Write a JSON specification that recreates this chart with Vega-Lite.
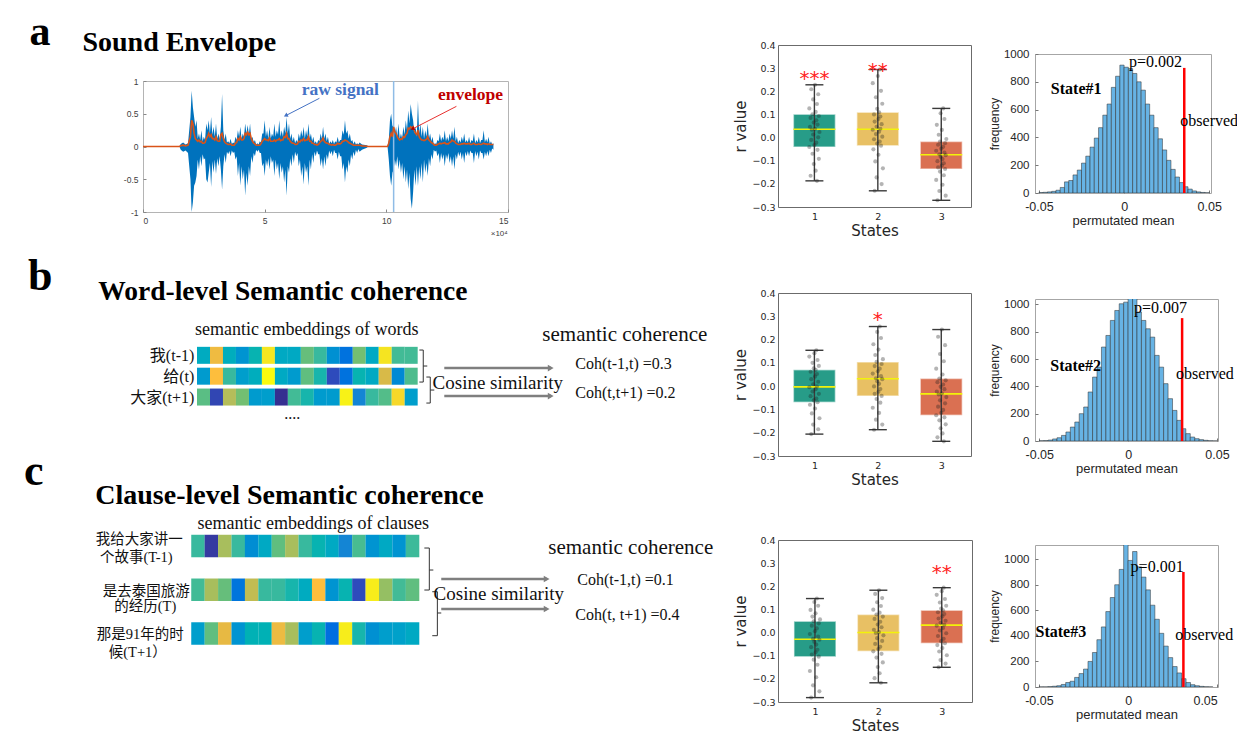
{
"$schema": "https://vega.github.io/schema/vega-lite/v6.json",
"background": "white",
"padding": {"left": 23, "top": 0, "right": 0, "bottom": 0},
"spacing": 14,
"config": {"view": {"stroke": null}, "axis": {"domain": false, "grid": false, "labelOverlap": false}},
"datasets": {
"wave": [
{"x":0,"hi":0.005,"lo":-0.005,"e":0},{"x":1.5,"hi":0.005,"lo":-0.005,"e":0},{"x":1.55,"hi":0.04,"lo":-0.05,"e":0.01},{"x":1.65,"hi":0.06,"lo":-0.08,"e":0.02},{"x":1.75,"hi":0.03,"lo":-0.06,"e":0.01},{"x":1.85,"hi":0.05,"lo":-0.1,"e":0.02},{"x":1.95,"hi":0.45,"lo":-0.5,"e":0.15},{"x":2.0,"hi":0.85,"lo":-1.0,"e":0.4},{"x":2.05,"hi":0.6,"lo":-0.85,"e":0.35},{"x":2.1,"hi":0.45,"lo":-0.6,"e":0.2},{"x":2.15,"hi":0.3,"lo":-0.55,"e":0.12},{"x":2.2,"hi":0.4,"lo":-0.45,"e":0.1},{"x":2.3,"hi":0.2,"lo":-0.35,"e":0.1},{"x":2.4,"hi":0.25,"lo":-0.3,"e":0.08},{"x":2.5,"hi":0.15,"lo":-0.2,"e":0.05},{"x":2.6,"hi":0.35,"lo":-0.5,"e":0.12},{"x":2.65,"hi":0.25,"lo":-0.55,"e":0.15},{"x":2.7,"hi":0.4,"lo":-0.4,"e":0.2},{"x":2.8,"hi":0.45,"lo":-0.62,"e":0.18},{"x":2.9,"hi":0.3,"lo":-0.4,"e":0.12},{"x":3.0,"hi":0.35,"lo":-0.42,"e":0.15},{"x":3.1,"hi":0.2,"lo":-0.3,"e":0.08},{"x":3.2,"hi":0.3,"lo":-0.35,"e":0.18},{"x":3.25,"hi":0.8,"lo":-0.66,"e":0.2},{"x":3.3,"hi":0.25,"lo":-0.3,"e":0.12},{"x":3.4,"hi":0.2,"lo":-0.25,"e":0.05},{"x":3.5,"hi":0.08,"lo":-0.12,"e":0.03},{"x":3.6,"hi":0.12,"lo":-0.15,"e":0.04},{"x":3.7,"hi":0.06,"lo":-0.1,"e":0.02},{"x":3.8,"hi":0.15,"lo":-0.2,"e":0.05},{"x":3.9,"hi":0.25,"lo":-0.45,"e":0.12},{"x":4.0,"hi":0.3,"lo":-0.6,"e":0.15},{"x":4.1,"hi":0.2,"lo":-0.5,"e":0.1},{"x":4.2,"hi":0.35,"lo":-0.75,"e":0.2},{"x":4.3,"hi":0.33,"lo":-0.6,"e":0.22},{"x":4.4,"hi":0.35,"lo":-0.45,"e":0.2},{"x":4.5,"hi":0.15,"lo":-0.25,"e":0.08},{"x":4.6,"hi":0.1,"lo":-0.15,"e":0.04},{"x":4.7,"hi":0.05,"lo":-0.08,"e":0.02},{"x":4.8,"hi":0.08,"lo":-0.1,"e":0.02},{"x":4.9,"hi":0.2,"lo":-0.3,"e":0.08},{"x":5.0,"hi":0.4,"lo":-0.45,"e":0.12},{"x":5.1,"hi":0.25,"lo":-0.3,"e":0.1},{"x":5.2,"hi":0.3,"lo":-0.35,"e":0.13},{"x":5.3,"hi":0.2,"lo":-0.25,"e":0.08},{"x":5.4,"hi":0.35,"lo":-0.45,"e":0.1},{"x":5.5,"hi":0.25,"lo":-0.35,"e":0.1},{"x":5.6,"hi":0.4,"lo":-0.5,"e":0.12},{"x":5.7,"hi":0.25,"lo":-0.4,"e":0.1},{"x":5.8,"hi":0.3,"lo":-0.55,"e":0.15},{"x":5.9,"hi":0.45,"lo":-0.75,"e":0.2},{"x":6.0,"hi":0.35,"lo":-0.4,"e":0.12},{"x":6.1,"hi":0.2,"lo":-0.3,"e":0.06},{"x":6.2,"hi":0.15,"lo":-0.25,"e":0.05},{"x":6.3,"hi":0.1,"lo":-0.15,"e":0.03},{"x":6.4,"hi":0.2,"lo":-0.3,"e":0.08},{"x":6.5,"hi":0.25,"lo":-0.45,"e":0.1},{"x":6.6,"hi":0.3,"lo":-0.58,"e":0.12},{"x":6.7,"hi":0.25,"lo":-0.4,"e":0.1},{"x":6.8,"hi":0.35,"lo":-0.6,"e":0.15},{"x":6.9,"hi":0.2,"lo":-0.35,"e":0.08},{"x":7.0,"hi":0.15,"lo":-0.25,"e":0.05},{"x":7.1,"hi":0.08,"lo":-0.15,"e":0.03},{"x":7.2,"hi":0.1,"lo":-0.12,"e":0.03},{"x":7.3,"hi":0.2,"lo":-0.3,"e":0.08},{"x":7.4,"hi":0.3,"lo":-0.35,"e":0.13},{"x":7.5,"hi":0.2,"lo":-0.3,"e":0.06},{"x":7.6,"hi":0.15,"lo":-0.2,"e":0.05},{"x":7.7,"hi":0.08,"lo":-0.12,"e":0.03},{"x":7.8,"hi":0.1,"lo":-0.15,"e":0.03},{"x":7.9,"hi":0.08,"lo":-0.1,"e":0.02},{"x":8.0,"hi":0.15,"lo":-0.2,"e":0.05},{"x":8.1,"hi":0.1,"lo":-0.15,"e":0.04},{"x":8.2,"hi":0.25,"lo":-0.35,"e":0.08},{"x":8.3,"hi":0.4,"lo":-0.55,"e":0.1},{"x":8.4,"hi":0.25,"lo":-0.4,"e":0.08},{"x":8.5,"hi":0.2,"lo":-0.3,"e":0.05},{"x":8.6,"hi":0.1,"lo":-0.2,"e":0.03},{"x":8.7,"hi":0.08,"lo":-0.15,"e":0.02},{"x":8.8,"hi":0.05,"lo":-0.1,"e":0.02},{"x":8.9,"hi":0.06,"lo":-0.08,"e":0.02},{"x":9.0,"hi":0.03,"lo":-0.05,"e":0.01},{"x":9.2,"hi":0.02,"lo":-0.02,"e":0.005},{"x":9.25,"hi":0.005,"lo":-0.005,"e":0},{"x":10.05,"hi":0.005,"lo":-0.005,"e":0},{"x":10.1,"hi":0.1,"lo":-0.2,"e":0.05},{"x":10.15,"hi":0.4,"lo":-0.45,"e":0.15},{"x":10.2,"hi":0.5,"lo":-0.6,"e":0.2},{"x":10.25,"hi":0.3,"lo":-0.4,"e":0.15},{"x":10.3,"hi":0.35,"lo":-0.35,"e":0.3},{"x":10.4,"hi":0.3,"lo":-0.3,"e":0.2},{"x":10.5,"hi":0.35,"lo":-0.35,"e":0.12},{"x":10.6,"hi":0.2,"lo":-0.4,"e":0.12},{"x":10.7,"hi":0.3,"lo":-0.5,"e":0.15},{"x":10.8,"hi":0.4,"lo":-0.55,"e":0.18},{"x":10.9,"hi":0.55,"lo":-0.65,"e":0.28},{"x":11.0,"hi":0.65,"lo":-0.8,"e":0.3},{"x":11.05,"hi":0.5,"lo":-0.95,"e":0.28},{"x":11.1,"hi":0.4,"lo":-0.7,"e":0.3},{"x":11.2,"hi":0.3,"lo":-0.6,"e":0.2},{"x":11.3,"hi":0.7,"lo":-0.6,"e":0.25},{"x":11.4,"hi":0.35,"lo":-0.5,"e":0.12},{"x":11.5,"hi":0.3,"lo":-0.55,"e":0.1},{"x":11.6,"hi":0.25,"lo":-0.4,"e":0.1},{"x":11.7,"hi":0.35,"lo":-0.45,"e":0.15},{"x":11.8,"hi":0.2,"lo":-0.3,"e":0.08},{"x":11.9,"hi":0.15,"lo":-0.2,"e":0.05},{"x":12.0,"hi":0.05,"lo":-0.08,"e":0.02},{"x":12.1,"hi":0.1,"lo":-0.15,"e":0.03},{"x":12.2,"hi":0.2,"lo":-0.25,"e":0.05},{"x":12.3,"hi":0.15,"lo":-0.2,"e":0.05},{"x":12.4,"hi":0.25,"lo":-0.3,"e":0.06},{"x":12.5,"hi":0.15,"lo":-0.2,"e":0.04},{"x":12.6,"hi":0.2,"lo":-0.25,"e":0.06},{"x":12.7,"hi":0.25,"lo":-0.3,"e":0.1},{"x":12.8,"hi":0.3,"lo":-0.35,"e":0.08},{"x":12.9,"hi":0.15,"lo":-0.2,"e":0.04},{"x":13.0,"hi":0.1,"lo":-0.15,"e":0.03},{"x":13.1,"hi":0.15,"lo":-0.2,"e":0.04},{"x":13.2,"hi":0.2,"lo":-0.25,"e":0.05},{"x":13.3,"hi":0.1,"lo":-0.15,"e":0.04},{"x":13.4,"hi":0.15,"lo":-0.15,"e":0.05},{"x":13.5,"hi":0.1,"lo":-0.1,"e":0.03},{"x":13.6,"hi":0.2,"lo":-0.25,"e":0.05},{"x":13.7,"hi":0.1,"lo":-0.15,"e":0.03},{"x":13.8,"hi":0.15,"lo":-0.2,"e":0.04},{"x":13.9,"hi":0.1,"lo":-0.1,"e":0.03},{"x":14.0,"hi":0.25,"lo":-0.2,"e":0.05},{"x":14.1,"hi":0.12,"lo":-0.15,"e":0.04},{"x":14.2,"hi":0.15,"lo":-0.15,"e":0.04},{"x":14.3,"hi":0.08,"lo":-0.1,"e":0.03},{"x":14.4,"hi":0.05,"lo":-0.05,"e":0.03},
{"x":2.25,"hi":0.12,"lo":-0.2,"e":0.08},{"x":2.35,"hi":0.1,"lo":-0.15,"e":0.07},{"x":2.45,"hi":0.08,"lo":-0.12,"e":0.05},{"x":2.55,"hi":0.1,"lo":-0.18,"e":0.06},{"x":2.75,"hi":0.2,"lo":-0.25,"e":0.15},{"x":2.85,"hi":0.18,"lo":-0.22,"e":0.12},{"x":2.95,"hi":0.15,"lo":-0.2,"e":0.1},{"x":3.05,"hi":0.12,"lo":-0.18,"e":0.09},{"x":3.15,"hi":0.1,"lo":-0.15,"e":0.08},{"x":3.35,"hi":0.1,"lo":-0.12,"e":0.07},{"x":3.45,"hi":0.06,"lo":-0.08,"e":0.04},{"x":3.55,"hi":0.05,"lo":-0.07,"e":0.03},{"x":3.65,"hi":0.04,"lo":-0.06,"e":0.02},{"x":3.75,"hi":0.05,"lo":-0.08,"e":0.02},{"x":3.85,"hi":0.1,"lo":-0.15,"e":0.06},{"x":3.95,"hi":0.15,"lo":-0.25,"e":0.1},{"x":4.05,"hi":0.12,"lo":-0.3,"e":0.1},{"x":4.15,"hi":0.15,"lo":-0.35,"e":0.12},{"x":4.25,"hi":0.2,"lo":-0.4,"e":0.18},{"x":4.35,"hi":0.18,"lo":-0.3,"e":0.18},{"x":4.45,"hi":0.1,"lo":-0.15,"e":0.12},{"x":4.55,"hi":0.06,"lo":-0.1,"e":0.05},{"x":4.65,"hi":0.03,"lo":-0.05,"e":0.02},{"x":4.75,"hi":0.03,"lo":-0.05,"e":0.02},{"x":4.85,"hi":0.06,"lo":-0.1,"e":0.04},{"x":4.95,"hi":0.2,"lo":-0.25,"e":0.1},{"x":5.05,"hi":0.15,"lo":-0.2,"e":0.1},{"x":5.15,"hi":0.12,"lo":-0.18,"e":0.09},{"x":5.25,"hi":0.12,"lo":-0.15,"e":0.08},{"x":5.35,"hi":0.15,"lo":-0.2,"e":0.08},{"x":5.45,"hi":0.15,"lo":-0.2,"e":0.08},{"x":5.55,"hi":0.18,"lo":-0.25,"e":0.1},{"x":5.65,"hi":0.15,"lo":-0.25,"e":0.09},{"x":5.75,"hi":0.15,"lo":-0.3,"e":0.1},{"x":5.85,"hi":0.2,"lo":-0.35,"e":0.14},{"x":5.95,"hi":0.2,"lo":-0.3,"e":0.12},{"x":6.05,"hi":0.12,"lo":-0.18,"e":0.08},{"x":6.15,"hi":0.08,"lo":-0.12,"e":0.05},{"x":6.25,"hi":0.05,"lo":-0.08,"e":0.03},{"x":6.35,"hi":0.06,"lo":-0.1,"e":0.04},{"x":6.45,"hi":0.12,"lo":-0.2,"e":0.07},{"x":6.55,"hi":0.15,"lo":-0.3,"e":0.09},{"x":6.65,"hi":0.12,"lo":-0.25,"e":0.09},{"x":6.75,"hi":0.15,"lo":-0.3,"e":0.1},{"x":6.85,"hi":0.12,"lo":-0.2,"e":0.08},{"x":6.95,"hi":0.08,"lo":-0.12,"e":0.05},{"x":7.05,"hi":0.05,"lo":-0.08,"e":0.03},{"x":7.15,"hi":0.04,"lo":-0.06,"e":0.02},{"x":7.25,"hi":0.08,"lo":-0.12,"e":0.05},{"x":7.35,"hi":0.12,"lo":-0.18,"e":0.09},{"x":7.45,"hi":0.12,"lo":-0.15,"e":0.08},{"x":7.55,"hi":0.08,"lo":-0.12,"e":0.05},{"x":7.65,"hi":0.04,"lo":-0.06,"e":0.03},{"x":7.75,"hi":0.05,"lo":-0.07,"e":0.02},{"x":7.85,"hi":0.04,"lo":-0.05,"e":0.02},{"x":7.95,"hi":0.06,"lo":-0.1,"e":0.03},{"x":8.05,"hi":0.06,"lo":-0.08,"e":0.04},{"x":8.15,"hi":0.1,"lo":-0.15,"e":0.05},{"x":8.25,"hi":0.18,"lo":-0.25,"e":0.08},{"x":8.35,"hi":0.2,"lo":-0.3,"e":0.09},{"x":8.45,"hi":0.12,"lo":-0.2,"e":0.06},{"x":8.55,"hi":0.08,"lo":-0.12,"e":0.04},{"x":8.65,"hi":0.04,"lo":-0.08,"e":0.02},{"x":8.75,"hi":0.03,"lo":-0.05,"e":0.02},{"x":8.85,"hi":0.03,"lo":-0.04,"e":0.02},{"x":10.35,"hi":0.2,"lo":-0.2,"e":0.22},{"x":10.45,"hi":0.15,"lo":-0.15,"e":0.15},{"x":10.55,"hi":0.12,"lo":-0.2,"e":0.1},{"x":10.65,"hi":0.12,"lo":-0.25,"e":0.11},{"x":10.75,"hi":0.18,"lo":-0.3,"e":0.14},{"x":10.85,"hi":0.25,"lo":-0.35,"e":0.2},{"x":10.95,"hi":0.35,"lo":-0.4,"e":0.27},{"x":11.15,"hi":0.2,"lo":-0.35,"e":0.24},{"x":11.25,"hi":0.15,"lo":-0.3,"e":0.18},{"x":11.35,"hi":0.2,"lo":-0.3,"e":0.15},{"x":11.45,"hi":0.15,"lo":-0.25,"e":0.1},{"x":11.55,"hi":0.12,"lo":-0.2,"e":0.09},{"x":11.65,"hi":0.15,"lo":-0.25,"e":0.11},{"x":11.75,"hi":0.12,"lo":-0.18,"e":0.1},{"x":11.85,"hi":0.08,"lo":-0.12,"e":0.06},{"x":11.95,"hi":0.03,"lo":-0.05,"e":0.03},{"x":12.05,"hi":0.04,"lo":-0.06,"e":0.02},{"x":12.15,"hi":0.08,"lo":-0.1,"e":0.04},{"x":12.25,"hi":0.08,"lo":-0.1,"e":0.04},{"x":12.35,"hi":0.1,"lo":-0.12,"e":0.05},{"x":12.45,"hi":0.08,"lo":-0.12,"e":0.04},{"x":12.55,"hi":0.08,"lo":-0.1,"e":0.04},{"x":12.65,"hi":0.12,"lo":-0.15,"e":0.07},{"x":12.75,"hi":0.12,"lo":-0.15,"e":0.08},{"x":12.85,"hi":0.08,"lo":-0.12,"e":0.05},{"x":12.95,"hi":0.05,"lo":-0.08,"e":0.03},{"x":13.05,"hi":0.06,"lo":-0.08,"e":0.03},{"x":13.15,"hi":0.08,"lo":-0.1,"e":0.04},{"x":13.25,"hi":0.06,"lo":-0.08,"e":0.04},{"x":13.35,"hi":0.06,"lo":-0.07,"e":0.04},{"x":13.45,"hi":0.05,"lo":-0.06,"e":0.03},{"x":13.55,"hi":0.08,"lo":-0.1,"e":0.04},{"x":13.65,"hi":0.05,"lo":-0.07,"e":0.03},{"x":13.75,"hi":0.06,"lo":-0.08,"e":0.03},{"x":13.85,"hi":0.05,"lo":-0.06,"e":0.03},{"x":13.95,"hi":0.1,"lo":-0.1,"e":0.04},{"x":14.05,"hi":0.06,"lo":-0.08,"e":0.04},{"x":14.15,"hi":0.06,"lo":-0.07,"e":0.03},{"x":14.25,"hi":0.04,"lo":-0.05,"e":0.03},{"x":14.35,"hi":0.03,"lo":-0.03,"e":0.03}
],
"wline": [{"x":10.3,"y0":-1,"y1":1}],
"warr": [{"k":"raw","x":7.25,"y":0.736,"x2":5.89,"y2":0.476},{"k":"env","x":12.88,"y":0.613,"x2":11.1,"y2":0.273}],
"wtext": [
{"k":"letter","x":-4.66,"y":1.55,"t":"a"},
{"k":"title","x":-2.49,"y":1.46,"t":"Sound Envelope"},
{"k":"raw","x":8.11,"y":0.792,"t":"raw signal"},
{"k":"env","x":13.46,"y":0.705,"t":"envelope"},
{"k":"exp","x":14.64,"y":-1.336,"t":"×10⁴"}
],
"cells": [
{"d":"b","r":0,"i":0,"v":0.32},{"d":"b","r":0,"i":1,"v":0.75},{"d":"b","r":0,"i":2,"v":0.33},{"d":"b","r":0,"i":3,"v":0.24},{"d":"b","r":0,"i":4,"v":0.36},{"d":"b","r":0,"i":5,"v":0.93},{"d":"b","r":0,"i":6,"v":0.31},{"d":"b","r":0,"i":7,"v":0.31},{"d":"b","r":0,"i":8,"v":0.48},{"d":"b","r":0,"i":9,"v":0.4},{"d":"b","r":0,"i":10,"v":0.23},{"d":"b","r":0,"i":11,"v":0.14},{"d":"b","r":0,"i":12,"v":0.5},{"d":"b","r":0,"i":13,"v":0.31},{"d":"b","r":0,"i":14,"v":0.92},{"d":"b","r":0,"i":15,"v":0.42},{"d":"b","r":0,"i":16,"v":0.42},
{"d":"b","r":1,"i":0,"v":0.26},{"d":"b","r":1,"i":1,"v":0.8},{"d":"b","r":1,"i":2,"v":0.4},{"d":"b","r":1,"i":3,"v":0.27},{"d":"b","r":1,"i":4,"v":0.33},{"d":"b","r":1,"i":5,"v":1.0},{"d":"b","r":1,"i":6,"v":0.31},{"d":"b","r":1,"i":7,"v":0.26},{"d":"b","r":1,"i":8,"v":0.47},{"d":"b","r":1,"i":9,"v":0.37},{"d":"b","r":1,"i":10,"v":0.06},{"d":"b","r":1,"i":11,"v":0.14},{"d":"b","r":1,"i":12,"v":0.36},{"d":"b","r":1,"i":13,"v":0.31},{"d":"b","r":1,"i":14,"v":0.68},{"d":"b","r":1,"i":15,"v":0.21},{"d":"b","r":1,"i":16,"v":0.44},
{"d":"b","r":2,"i":0,"v":0.46},{"d":"b","r":2,"i":1,"v":0.05},{"d":"b","r":2,"i":2,"v":0.6},{"d":"b","r":2,"i":3,"v":0.5},{"d":"b","r":2,"i":4,"v":0.26},{"d":"b","r":2,"i":5,"v":0.27},{"d":"b","r":2,"i":6,"v":0.01},{"d":"b","r":2,"i":7,"v":0.42},{"d":"b","r":2,"i":8,"v":0.37},{"d":"b","r":2,"i":9,"v":0.26},{"d":"b","r":2,"i":10,"v":0.26},{"d":"b","r":2,"i":11,"v":0.97},{"d":"b","r":2,"i":12,"v":0.2},{"d":"b","r":2,"i":13,"v":0.4},{"d":"b","r":2,"i":14,"v":0.45},{"d":"b","r":2,"i":15,"v":0.88},{"d":"b","r":2,"i":16,"v":0.27},
{"d":"c","r":0,"i":0,"v":0.4},{"d":"c","r":0,"i":1,"v":0.03},{"d":"c","r":0,"i":2,"v":0.58},{"d":"c","r":0,"i":3,"v":0.4},{"d":"c","r":0,"i":4,"v":0.22},{"d":"c","r":0,"i":5,"v":0.31},{"d":"c","r":0,"i":6,"v":0.47},{"d":"c","r":0,"i":7,"v":0.58},{"d":"c","r":0,"i":8,"v":0.4},{"d":"c","r":0,"i":9,"v":0.36},{"d":"c","r":0,"i":10,"v":0.31},{"d":"c","r":0,"i":11,"v":0.2},{"d":"c","r":0,"i":12,"v":0.43},{"d":"c","r":0,"i":13,"v":0.24},{"d":"c","r":0,"i":14,"v":0.31},{"d":"c","r":0,"i":15,"v":0.24},{"d":"c","r":0,"i":16,"v":0.41},
{"d":"c","r":1,"i":0,"v":0.42},{"d":"c","r":1,"i":1,"v":0.58},{"d":"c","r":1,"i":2,"v":0.48},{"d":"c","r":1,"i":3,"v":0.15},{"d":"c","r":1,"i":4,"v":0.63},{"d":"c","r":1,"i":5,"v":0.4},{"d":"c","r":1,"i":6,"v":0.4},{"d":"c","r":1,"i":7,"v":0.37},{"d":"c","r":1,"i":8,"v":0.32},{"d":"c","r":1,"i":9,"v":0.8},{"d":"c","r":1,"i":10,"v":0.24},{"d":"c","r":1,"i":11,"v":0.36},{"d":"c","r":1,"i":12,"v":0.06},{"d":"c","r":1,"i":13,"v":0.95},{"d":"c","r":1,"i":14,"v":0.55},{"d":"c","r":1,"i":15,"v":0.42},{"d":"c","r":1,"i":16,"v":0.47},
{"d":"c","r":2,"i":0,"v":0.27},{"d":"c","r":2,"i":1,"v":0.47},{"d":"c","r":2,"i":2,"v":0.72},{"d":"c","r":2,"i":3,"v":0.24},{"d":"c","r":2,"i":4,"v":0.35},{"d":"c","r":2,"i":5,"v":0.35},{"d":"c","r":2,"i":6,"v":0.74},{"d":"c","r":2,"i":7,"v":0.58},{"d":"c","r":2,"i":8,"v":0.27},{"d":"c","r":2,"i":9,"v":0.36},{"d":"c","r":2,"i":10,"v":0.13},{"d":"c","r":2,"i":11,"v":0.95},{"d":"c","r":2,"i":12,"v":0.37},{"d":"c","r":2,"i":13,"v":0.23},{"d":"c","r":2,"i":14,"v":0.27},{"d":"c","r":2,"i":15,"v":0.28},{"d":"c","r":2,"i":16,"v":0.31}
],
"dtext": [
{"d":"b","k":"letter","x":-13.52,"y":-3.132,"t":"b"},
{"d":"b","k":"title","x":-8.105,"y":-2.652,"t":"Word-level Semantic coherence"},
{"d":"b","k":"cap","x":7.958,"y":-1.213,"t":"semantic embeddings of words"},
{"d":"b","k":"lab","x":-0.709,"y":0.03,"t":"我(t-1)"},
{"d":"b","k":"lab","x":-0.709,"y":1.04,"t":"给(t)"},
{"d":"b","k":"lab","x":-0.709,"y":2.05,"t":"大家(t+1)"},
{"d":"b","k":"dots","x":6.841,"y":3.055,"t":"...."},
{"d":"b","k":"cos","x":22.67,"y":1.328,"t":"Cosine similarity"},
{"d":"b","k":"sc","x":32.46,"y":-0.974,"t":"semantic coherence"},
{"d":"b","k":"coh","x":28.64,"y":0.417,"t":"Coh(t-1,t) =0.3"},
{"d":"b","k":"coh","x":28.64,"y":1.808,"t":"Coh(t,t+1) =0.2"},
{"d":"c","k":"letter","x":-12.98,"y":-1.394,"t":"c"},
{"d":"c","k":"title","x":-7.658,"y":-0.971,"t":"Clause-level Semantic coherence"},
{"d":"c","k":"cap","x":8.598,"y":-0.503,"t":"semantic embeddings of clauses"},
{"d":"c","k":"labc","x":-4.377,"y":-0.137,"t":"我给大家讲一"},
{"d":"c","k":"labc","x":-4.601,"y":0.274,"t":"个故事(T-1)"},
{"d":"c","k":"labc","x":-3.855,"y":1.045,"t":"是去泰国旅游"},
{"d":"c","k":"labc","x":-3.93,"y":1.394,"t":"的经历(T)"},
{"d":"c","k":"labc","x":-4.303,"y":2.034,"t":"那是91年的时"},
{"d":"c","k":"labc","x":-4.489,"y":2.439,"t":"候(T+1）"},
{"d":"c","k":"cos","x":22.43,"y":1.097,"t":"Cosine similarity"},
{"d":"c","k":"sc","x":32.27,"y":0.046,"t":"semantic coherence"},
{"d":"c","k":"coh","x":28.28,"y":0.777,"t":"Coh(t-1,t) =0.1"},
{"d":"c","k":"coh","x":28.14,"y":1.577,"t":"Coh(t, t+1) =0.4"}
],
"segs": [
{"d":"b","x":16.63,"y":-0.254,"x2":16.93,"y2":-0.254},{"d":"b","x":16.93,"y":-0.254,"x2":16.93,"y2":1.281},{"d":"b","x":16.63,"y":1.281,"x2":16.93,"y2":1.281},{"d":"b","x":16.93,"y":0.513,"x2":17.24,"y2":0.513},
{"d":"b","x":17.17,"y":1.041,"x2":17.47,"y2":1.041},{"d":"b","x":17.47,"y":1.041,"x2":17.47,"y2":2.288},{"d":"b","x":17.17,"y":2.288,"x2":17.47,"y2":2.288},{"d":"b","x":17.47,"y":1.664,"x2":17.78,"y2":1.664},
{"d":"c","x":16.88,"y":0.046,"x2":17.25,"y2":0.046},{"d":"c","x":17.25,"y":0.046,"x2":17.25,"y2":1.006},{"d":"c","x":16.88,"y":1.006,"x2":17.25,"y2":1.006},{"d":"c","x":17.25,"y":0.549,"x2":17.55,"y2":0.549},
{"d":"c","x":17.47,"y":1.045,"x2":17.85,"y2":1.045},{"d":"c","x":17.85,"y":1.045,"x2":17.85,"y2":2.05},{"d":"c","x":17.47,"y":2.05,"x2":17.85,"y2":2.05},{"d":"c","x":17.85,"y":1.531,"x2":18.14,"y2":1.531}
],
"arrows": [
{"d":"b","x":18.55,"x2":26.75,"y":0.609},{"d":"b","x":18.55,"x2":26.75,"y":1.952},
{"d":"c","x":18.14,"x2":26.0,"y":0.754},{"d":"c","x":18.14,"x2":26.0,"y":1.44}
],
"boxes": [
{"p":"a","s":1,"lo":-0.187,"q1":-0.041,"med":0.036,"q3":0.101,"hi":0.228},
{"p":"a","s":2,"lo":-0.23,"q1":-0.035,"med":0.036,"q3":0.109,"hi":0.294},
{"p":"a","s":3,"lo":-0.271,"q1":-0.136,"med":-0.074,"q3":-0.017,"hi":0.126},
{"p":"b","s":1,"lo":-0.206,"q1":-0.069,"med":-0.003,"q3":0.0705,"hi":0.154},
{"p":"b","s":2,"lo":-0.187,"q1":-0.042,"med":0.032,"q3":0.104,"hi":0.256},
{"p":"b","s":3,"lo":-0.237,"q1":-0.125,"med":-0.033,"q3":0.033,"hi":0.243},
{"p":"c","s":1,"lo":-0.281,"q1":-0.104,"med":-0.029,"q3":0.049,"hi":0.147},
{"p":"c","s":2,"lo":-0.217,"q1":-0.081,"med":0.0,"q3":0.078,"hi":0.183},
{"p":"c","s":3,"lo":-0.15,"q1":-0.046,"med":0.032,"q3":0.096,"hi":0.194}
],
"stars": [
{"p":"a","s":1,"y":0.227,"t":"***"},{"p":"a","s":2,"y":0.263,"t":"**"},{"p":"b","s":2,"y":0.258,"t":"*"},{"p":"c","s":3,"y":0.232,"t":"**"}
],
"pts": [
{"p":"a","x":1.04,"y":-0.187},{"p":"a","x":0.94,"y":-0.165},{"p":"a","x":1.02,"y":-0.143},{"p":"a","x":0.99,"y":-0.114},{"p":"a","x":1.07,"y":-0.092},{"p":"a","x":0.97,"y":-0.07},{"p":"a","x":1.05,"y":-0.053},{"p":"a","x":0.92,"y":-0.041},{"p":"a","x":1.0,"y":-0.032},{"p":"a","x":1.03,"y":-0.022},{"p":"a","x":0.95,"y":-0.01},{"p":"a","x":1.06,"y":0.001},{"p":"a","x":0.98,"y":0.013},{"p":"a","x":1.08,"y":0.024},{"p":"a","x":0.96,"y":0.034},{"p":"a","x":1.01,"y":0.038},{"p":"a","x":0.93,"y":0.046},{"p":"a","x":1.05,"y":0.056},{"p":"a","x":0.99,"y":0.065},{"p":"a","x":1.03,"y":0.075},{"p":"a","x":0.94,"y":0.085},{"p":"a","x":1.07,"y":0.093},{"p":"a","x":0.97,"y":0.101},{"p":"a","x":1.02,"y":0.111},{"p":"a","x":0.92,"y":0.126},{"p":"a","x":1.04,"y":0.145},{"p":"a","x":0.98,"y":0.165},{"p":"a","x":1.06,"y":0.187},{"p":"a","x":0.95,"y":0.209},{"p":"a","x":1.01,"y":0.228},
{"p":"a","x":1.95,"y":-0.23},{"p":"a","x":2.06,"y":-0.201},{"p":"a","x":1.98,"y":-0.172},{"p":"a","x":2.08,"y":-0.133},{"p":"a","x":1.96,"y":-0.103},{"p":"a","x":2.01,"y":-0.074},{"p":"a","x":1.93,"y":-0.051},{"p":"a","x":2.05,"y":-0.035},{"p":"a","x":1.99,"y":-0.026},{"p":"a","x":2.03,"y":-0.017},{"p":"a","x":1.94,"y":-0.007},{"p":"a","x":2.07,"y":0.004},{"p":"a","x":1.97,"y":0.015},{"p":"a","x":2.02,"y":0.025},{"p":"a","x":1.92,"y":0.034},{"p":"a","x":2.04,"y":0.038},{"p":"a","x":1.98,"y":0.047},{"p":"a","x":2.06,"y":0.058},{"p":"a","x":1.95,"y":0.069},{"p":"a","x":2.01,"y":0.08},{"p":"a","x":2.04,"y":0.091},{"p":"a","x":1.94,"y":0.1},{"p":"a","x":2.02,"y":0.109},{"p":"a","x":1.99,"y":0.124},{"p":"a","x":2.07,"y":0.146},{"p":"a","x":1.97,"y":0.174},{"p":"a","x":2.05,"y":0.202},{"p":"a","x":1.92,"y":0.235},{"p":"a","x":2.0,"y":0.266},{"p":"a","x":2.03,"y":0.294},
{"p":"a","x":2.94,"y":-0.271},{"p":"a","x":3.07,"y":-0.251},{"p":"a","x":2.97,"y":-0.231},{"p":"a","x":3.02,"y":-0.204},{"p":"a","x":2.92,"y":-0.183},{"p":"a","x":3.04,"y":-0.163},{"p":"a","x":2.98,"y":-0.147},{"p":"a","x":3.06,"y":-0.136},{"p":"a","x":2.95,"y":-0.129},{"p":"a","x":3.01,"y":-0.121},{"p":"a","x":3.04,"y":-0.111},{"p":"a","x":2.94,"y":-0.102},{"p":"a","x":3.02,"y":-0.093},{"p":"a","x":2.99,"y":-0.083},{"p":"a","x":3.07,"y":-0.076},{"p":"a","x":2.97,"y":-0.072},{"p":"a","x":3.05,"y":-0.065},{"p":"a","x":2.92,"y":-0.057},{"p":"a","x":3.0,"y":-0.048},{"p":"a","x":3.03,"y":-0.04},{"p":"a","x":2.95,"y":-0.031},{"p":"a","x":3.06,"y":-0.024},{"p":"a","x":2.98,"y":-0.017},{"p":"a","x":3.08,"y":-0.006},{"p":"a","x":2.96,"y":0.012},{"p":"a","x":3.01,"y":0.033},{"p":"a","x":2.93,"y":0.055},{"p":"a","x":3.05,"y":0.08},{"p":"a","x":2.99,"y":0.105},{"p":"a","x":3.03,"y":0.126},
{"p":"b","x":0.95,"y":-0.206},{"p":"b","x":1.06,"y":-0.185},{"p":"b","x":0.98,"y":-0.165},{"p":"b","x":1.08,"y":-0.138},{"p":"b","x":0.96,"y":-0.117},{"p":"b","x":1.01,"y":-0.096},{"p":"b","x":0.93,"y":-0.08},{"p":"b","x":1.05,"y":-0.069},{"p":"b","x":0.99,"y":-0.061},{"p":"b","x":1.03,"y":-0.053},{"p":"b","x":0.94,"y":-0.043},{"p":"b","x":1.07,"y":-0.033},{"p":"b","x":0.97,"y":-0.023},{"p":"b","x":1.02,"y":-0.013},{"p":"b","x":0.92,"y":-0.005},{"p":"b","x":1.04,"y":-0.001},{"p":"b","x":0.98,"y":0.008},{"p":"b","x":1.06,"y":0.019},{"p":"b","x":0.95,"y":0.03},{"p":"b","x":1.01,"y":0.041},{"p":"b","x":1.04,"y":0.052},{"p":"b","x":0.94,"y":0.062},{"p":"b","x":1.02,"y":0.07},{"p":"b","x":0.99,"y":0.077},{"p":"b","x":1.07,"y":0.087},{"p":"b","x":0.97,"y":0.1},{"p":"b","x":1.05,"y":0.112},{"p":"b","x":0.92,"y":0.127},{"p":"b","x":1.0,"y":0.141},{"p":"b","x":1.03,"y":0.154},
{"p":"b","x":1.94,"y":-0.187},{"p":"b","x":2.07,"y":-0.165},{"p":"b","x":1.97,"y":-0.144},{"p":"b","x":2.02,"y":-0.115},{"p":"b","x":1.92,"y":-0.093},{"p":"b","x":2.04,"y":-0.071},{"p":"b","x":1.98,"y":-0.055},{"p":"b","x":2.06,"y":-0.042},{"p":"b","x":1.95,"y":-0.033},{"p":"b","x":2.01,"y":-0.024},{"p":"b","x":2.04,"y":-0.012},{"p":"b","x":1.94,"y":-0.001},{"p":"b","x":2.02,"y":0.01},{"p":"b","x":1.99,"y":0.021},{"p":"b","x":2.07,"y":0.03},{"p":"b","x":1.97,"y":0.034},{"p":"b","x":2.05,"y":0.043},{"p":"b","x":1.92,"y":0.054},{"p":"b","x":2.0,"y":0.064},{"p":"b","x":2.03,"y":0.075},{"p":"b","x":1.95,"y":0.086},{"p":"b","x":2.06,"y":0.095},{"p":"b","x":1.98,"y":0.104},{"p":"b","x":2.08,"y":0.116},{"p":"b","x":1.96,"y":0.134},{"p":"b","x":2.01,"y":0.157},{"p":"b","x":1.93,"y":0.18},{"p":"b","x":2.05,"y":0.207},{"p":"b","x":1.99,"y":0.233},{"p":"b","x":2.03,"y":0.256},
{"p":"b","x":3.04,"y":-0.237},{"p":"b","x":2.94,"y":-0.22},{"p":"b","x":3.02,"y":-0.203},{"p":"b","x":2.99,"y":-0.181},{"p":"b","x":3.07,"y":-0.164},{"p":"b","x":2.97,"y":-0.147},{"p":"b","x":3.05,"y":-0.134},{"p":"b","x":2.92,"y":-0.125},{"p":"b","x":3.0,"y":-0.114},{"p":"b","x":3.03,"y":-0.102},{"p":"b","x":2.95,"y":-0.088},{"p":"b","x":3.06,"y":-0.074},{"p":"b","x":2.98,"y":-0.061},{"p":"b","x":3.08,"y":-0.047},{"p":"b","x":2.96,"y":-0.036},{"p":"b","x":3.01,"y":-0.031},{"p":"b","x":2.93,"y":-0.023},{"p":"b","x":3.05,"y":-0.013},{"p":"b","x":2.99,"y":-0.003},{"p":"b","x":3.03,"y":0.007},{"p":"b","x":2.94,"y":0.017},{"p":"b","x":3.07,"y":0.025},{"p":"b","x":2.97,"y":0.033},{"p":"b","x":3.02,"y":0.05},{"p":"b","x":2.92,"y":0.075},{"p":"b","x":3.04,"y":0.107},{"p":"b","x":2.98,"y":0.138},{"p":"b","x":3.06,"y":0.176},{"p":"b","x":2.95,"y":0.212},{"p":"b","x":3.01,"y":0.243},
{"p":"c","x":0.94,"y":-0.281},{"p":"c","x":1.07,"y":-0.254},{"p":"c","x":0.97,"y":-0.228},{"p":"c","x":1.02,"y":-0.193},{"p":"c","x":0.92,"y":-0.166},{"p":"c","x":1.04,"y":-0.139},{"p":"c","x":0.98,"y":-0.117},{"p":"c","x":1.06,"y":-0.104},{"p":"c","x":0.95,"y":-0.095},{"p":"c","x":1.01,"y":-0.085},{"p":"c","x":1.04,"y":-0.074},{"p":"c","x":0.94,"y":-0.063},{"p":"c","x":1.02,"y":-0.052},{"p":"c","x":0.99,"y":-0.04},{"p":"c","x":1.07,"y":-0.031},{"p":"c","x":0.97,"y":-0.027},{"p":"c","x":1.05,"y":-0.017},{"p":"c","x":0.92,"y":-0.006},{"p":"c","x":1.0,"y":0.006},{"p":"c","x":1.03,"y":0.018},{"p":"c","x":0.95,"y":0.03},{"p":"c","x":1.06,"y":0.04},{"p":"c","x":0.98,"y":0.049},{"p":"c","x":1.08,"y":0.057},{"p":"c","x":0.96,"y":0.069},{"p":"c","x":1.01,"y":0.083},{"p":"c","x":0.93,"y":0.098},{"p":"c","x":1.05,"y":0.116},{"p":"c","x":0.99,"y":0.132},{"p":"c","x":1.03,"y":0.147},
{"p":"c","x":2.04,"y":-0.217},{"p":"c","x":1.94,"y":-0.197},{"p":"c","x":2.02,"y":-0.176},{"p":"c","x":1.99,"y":-0.149},{"p":"c","x":2.07,"y":-0.129},{"p":"c","x":1.97,"y":-0.108},{"p":"c","x":2.05,"y":-0.092},{"p":"c","x":1.92,"y":-0.081},{"p":"c","x":2.0,"y":-0.071},{"p":"c","x":2.03,"y":-0.061},{"p":"c","x":1.95,"y":-0.049},{"p":"c","x":2.06,"y":-0.036},{"p":"c","x":1.98,"y":-0.024},{"p":"c","x":2.08,"y":-0.012},{"p":"c","x":1.96,"y":-0.002},{"p":"c","x":2.01,"y":0.002},{"p":"c","x":1.93,"y":0.012},{"p":"c","x":2.05,"y":0.023},{"p":"c","x":1.99,"y":0.035},{"p":"c","x":2.03,"y":0.047},{"p":"c","x":1.94,"y":0.059},{"p":"c","x":2.07,"y":0.069},{"p":"c","x":1.97,"y":0.078},{"p":"c","x":2.02,"y":0.086},{"p":"c","x":1.92,"y":0.099},{"p":"c","x":2.04,"y":0.115},{"p":"c","x":1.98,"y":0.131},{"p":"c","x":2.06,"y":0.149},{"p":"c","x":1.95,"y":0.167},{"p":"c","x":2.01,"y":0.183},
{"p":"c","x":2.95,"y":-0.15},{"p":"c","x":3.06,"y":-0.134},{"p":"c","x":2.98,"y":-0.119},{"p":"c","x":3.08,"y":-0.098},{"p":"c","x":2.96,"y":-0.082},{"p":"c","x":3.01,"y":-0.067},{"p":"c","x":2.93,"y":-0.054},{"p":"c","x":3.05,"y":-0.046},{"p":"c","x":2.99,"y":-0.037},{"p":"c","x":3.03,"y":-0.027},{"p":"c","x":2.94,"y":-0.015},{"p":"c","x":3.07,"y":-0.003},{"p":"c","x":2.97,"y":0.009},{"p":"c","x":3.02,"y":0.02},{"p":"c","x":2.92,"y":0.03},{"p":"c","x":3.04,"y":0.034},{"p":"c","x":2.98,"y":0.042},{"p":"c","x":3.06,"y":0.051},{"p":"c","x":2.95,"y":0.061},{"p":"c","x":3.01,"y":0.07},{"p":"c","x":3.04,"y":0.08},{"p":"c","x":2.94,"y":0.088},{"p":"c","x":3.02,"y":0.096},{"p":"c","x":2.99,"y":0.104},{"p":"c","x":3.07,"y":0.116},{"p":"c","x":2.97,"y":0.13},{"p":"c","x":3.05,"y":0.145},{"p":"c","x":2.92,"y":0.163},{"p":"c","x":3.0,"y":0.179},{"p":"c","x":3.03,"y":0.194}
],
"hist": [
{"p":"a","b0":-0.05,"b1":-0.0475,"n":3},{"p":"a","b0":-0.0475,"b1":-0.045,"n":5},{"p":"a","b0":-0.045,"b1":-0.0425,"n":8},{"p":"a","b0":-0.0425,"b1":-0.04,"n":12},{"p":"a","b0":-0.04,"b1":-0.0375,"n":20},{"p":"a","b0":-0.0375,"b1":-0.035,"n":40},{"p":"a","b0":-0.035,"b1":-0.0325,"n":80},{"p":"a","b0":-0.0325,"b1":-0.03,"n":90},{"p":"a","b0":-0.03,"b1":-0.0275,"n":130},{"p":"a","b0":-0.0275,"b1":-0.025,"n":165},{"p":"a","b0":-0.025,"b1":-0.0225,"n":215},{"p":"a","b0":-0.0225,"b1":-0.02,"n":265},{"p":"a","b0":-0.02,"b1":-0.0175,"n":330},{"p":"a","b0":-0.0175,"b1":-0.015,"n":395},{"p":"a","b0":-0.015,"b1":-0.0125,"n":470},{"p":"a","b0":-0.0125,"b1":-0.01,"n":560},{"p":"a","b0":-0.01,"b1":-0.0075,"n":640},{"p":"a","b0":-0.0075,"b1":-0.005,"n":760},{"p":"a","b0":-0.005,"b1":-0.0025,"n":840},{"p":"a","b0":-0.0025,"b1":0,"n":920},{"p":"a","b0":0,"b1":0.0025,"n":905},{"p":"a","b0":0.0025,"b1":0.005,"n":895},{"p":"a","b0":0.005,"b1":0.0075,"n":860},{"p":"a","b0":0.0075,"b1":0.01,"n":800},{"p":"a","b0":0.01,"b1":0.0125,"n":740},{"p":"a","b0":0.0125,"b1":0.015,"n":640},{"p":"a","b0":0.015,"b1":0.0175,"n":560},{"p":"a","b0":0.0175,"b1":0.02,"n":470},{"p":"a","b0":0.02,"b1":0.0225,"n":390},{"p":"a","b0":0.0225,"b1":0.025,"n":310},{"p":"a","b0":0.025,"b1":0.0275,"n":235},{"p":"a","b0":0.0275,"b1":0.03,"n":170},{"p":"a","b0":0.03,"b1":0.0325,"n":115},{"p":"a","b0":0.0325,"b1":0.035,"n":75},{"p":"a","b0":0.035,"b1":0.0375,"n":45},{"p":"a","b0":0.0375,"b1":0.04,"n":28},{"p":"a","b0":0.04,"b1":0.0425,"n":15},{"p":"a","b0":0.0425,"b1":0.045,"n":8},{"p":"a","b0":0.045,"b1":0.0475,"n":4},{"p":"a","b0":0.0475,"b1":0.05,"n":2},
{"p":"b","b0":-0.05,"b1":-0.0475,"n":2},{"p":"b","b0":-0.0475,"b1":-0.045,"n":3},{"p":"b","b0":-0.045,"b1":-0.0425,"n":7},{"p":"b","b0":-0.0425,"b1":-0.04,"n":15},{"p":"b","b0":-0.04,"b1":-0.0375,"n":24},{"p":"b","b0":-0.0375,"b1":-0.035,"n":41},{"p":"b","b0":-0.035,"b1":-0.0325,"n":66},{"p":"b","b0":-0.0325,"b1":-0.03,"n":102},{"p":"b","b0":-0.03,"b1":-0.0275,"n":139},{"p":"b","b0":-0.0275,"b1":-0.025,"n":200},{"p":"b","b0":-0.025,"b1":-0.0225,"n":249},{"p":"b","b0":-0.0225,"b1":-0.02,"n":359},{"p":"b","b0":-0.02,"b1":-0.0175,"n":468},{"p":"b","b0":-0.0175,"b1":-0.015,"n":541},{"p":"b","b0":-0.015,"b1":-0.0125,"n":688},{"p":"b","b0":-0.0125,"b1":-0.01,"n":773},{"p":"b","b0":-0.01,"b1":-0.0075,"n":883},{"p":"b","b0":-0.0075,"b1":-0.005,"n":956},{"p":"b","b0":-0.005,"b1":-0.0025,"n":1005},{"p":"b","b0":-0.0025,"b1":0,"n":1017},{"p":"b","b0":0,"b1":0.0025,"n":1060},{"p":"b","b0":0.0025,"b1":0.005,"n":1045},{"p":"b","b0":0.005,"b1":0.0075,"n":944},{"p":"b","b0":0.0075,"b1":0.01,"n":883},{"p":"b","b0":0.01,"b1":0.0125,"n":822},{"p":"b","b0":0.0125,"b1":0.015,"n":761},{"p":"b","b0":0.015,"b1":0.0175,"n":627},{"p":"b","b0":0.0175,"b1":0.02,"n":541},{"p":"b","b0":0.02,"b1":0.0225,"n":420},{"p":"b","b0":0.0225,"b1":0.025,"n":310},{"p":"b","b0":0.025,"b1":0.0275,"n":224},{"p":"b","b0":0.0275,"b1":0.03,"n":151},{"p":"b","b0":0.03,"b1":0.0325,"n":90},{"p":"b","b0":0.0325,"b1":0.035,"n":54},{"p":"b","b0":0.035,"b1":0.0375,"n":29},{"p":"b","b0":0.0375,"b1":0.04,"n":17},{"p":"b","b0":0.04,"b1":0.0425,"n":10},{"p":"b","b0":0.0425,"b1":0.045,"n":5},{"p":"b","b0":0.045,"b1":0.0475,"n":2},{"p":"b","b0":0.0475,"b1":0.05,"n":1},
{"p":"c","b0":-0.05,"b1":-0.0475,"n":1},{"p":"c","b0":-0.0475,"b1":-0.045,"n":1},{"p":"c","b0":-0.045,"b1":-0.0425,"n":3},{"p":"c","b0":-0.0425,"b1":-0.04,"n":6},{"p":"c","b0":-0.04,"b1":-0.0375,"n":10},{"p":"c","b0":-0.0375,"b1":-0.035,"n":20},{"p":"c","b0":-0.035,"b1":-0.0325,"n":35},{"p":"c","b0":-0.0325,"b1":-0.03,"n":45},{"p":"c","b0":-0.03,"b1":-0.0275,"n":75},{"p":"c","b0":-0.0275,"b1":-0.025,"n":105},{"p":"c","b0":-0.025,"b1":-0.0225,"n":140},{"p":"c","b0":-0.0225,"b1":-0.02,"n":200},{"p":"c","b0":-0.02,"b1":-0.0175,"n":270},{"p":"c","b0":-0.0175,"b1":-0.015,"n":370},{"p":"c","b0":-0.015,"b1":-0.0125,"n":470},{"p":"c","b0":-0.0125,"b1":-0.01,"n":590},{"p":"c","b0":-0.01,"b1":-0.0075,"n":700},{"p":"c","b0":-0.0075,"b1":-0.005,"n":800},{"p":"c","b0":-0.005,"b1":-0.0025,"n":920},{"p":"c","b0":-0.0025,"b1":0,"n":1130},{"p":"c","b0":0,"b1":0.0025,"n":990},{"p":"c","b0":0.0025,"b1":0.005,"n":1060},{"p":"c","b0":0.005,"b1":0.0075,"n":940},{"p":"c","b0":0.0075,"b1":0.01,"n":860},{"p":"c","b0":0.01,"b1":0.0125,"n":760},{"p":"c","b0":0.0125,"b1":0.015,"n":640},{"p":"c","b0":0.015,"b1":0.0175,"n":530},{"p":"c","b0":0.0175,"b1":0.02,"n":420},{"p":"c","b0":0.02,"b1":0.0225,"n":320},{"p":"c","b0":0.0225,"b1":0.025,"n":230},{"p":"c","b0":0.025,"b1":0.0275,"n":160},{"p":"c","b0":0.0275,"b1":0.03,"n":110},{"p":"c","b0":0.03,"b1":0.0325,"n":65},{"p":"c","b0":0.0325,"b1":0.035,"n":35},{"p":"c","b0":0.035,"b1":0.0375,"n":18},{"p":"c","b0":0.0375,"b1":0.04,"n":10},{"p":"c","b0":0.04,"b1":0.0425,"n":5},{"p":"c","b0":0.0425,"b1":0.045,"n":2},{"p":"c","b0":0.045,"b1":0.0475,"n":1}
],
"obs": [{"p":"a","x":0.0353,"y0":0,"y1":900},{"p":"b","x":0.0304,"y0":0,"y1":900},{"p":"c","x":0.031,"y0":0,"y1":900}],
"htext": [
{"p":"a","k":"pv","x":0.0028,"y":910,"t":"p=0.002"},{"p":"a","k":"st","x":-0.043,"y":712,"t":"State#1"},{"p":"a","k":"ob","x":0.033,"y":484,"t":"observed"},
{"p":"b","k":"pv","x":0.0033,"y":941,"t":"p=0.007"},{"p":"b","k":"st","x":-0.0438,"y":514,"t":"State#2"},{"p":"b","k":"ob","x":0.027,"y":453,"t":"observed"},
{"p":"c","k":"pv","x":0.0014,"y":903,"t":"p=0.001"},{"p":"c","k":"st","x":-0.0519,"y":388,"t":"State#3"},{"p":"c","k":"ob","x":0.0265,"y":370,"t":"observed"}
]
},
"hconcat": [
{"vconcat": [
 {"width": 1, "height": 81, "data": {"values": [{}]}, "mark": {"type": "point", "opacity": 0}},
 {"width": 365, "height": 131, "view": {"stroke": "#b4b4b4"},
  "layer": [
   {"data": {"name": "wave"}, "mark": {"type": "area", "color": "#0072BD"},
    "encoding": {"x": {"field": "x", "type": "quantitative", "title": null, "scale": {"domain": [0, 15], "nice": false},
      "axis": {"values": [0, 5, 10, 15], "tickCount": 20, "labelExpr": "'' + datum.value", "labelOverlap": false, "tickSize": -3, "tickColor": "#888", "labelPadding": 7, "labelFont": "Liberation Sans", "labelFontSize": 8.5, "labelColor": "#404040"}},
     "y": {"field": "hi", "type": "quantitative", "title": null, "scale": {"domain": [-1, 1], "nice": false},
      "axis": {"values": [-1, -0.5, 0, 0.5, 1], "tickCount": 20, "labelExpr": "'' + datum.value", "labelOverlap": false, "tickSize": -3, "tickColor": "#888", "labelPadding": 8, "labelFont": "Liberation Sans", "labelFontSize": 8.5, "labelColor": "#404040"}},
     "y2": {"field": "lo"}}},
   {"data": {"name": "wline"}, "mark": {"type": "rule", "color": "#8FBCE6", "strokeWidth": 1.5},
    "encoding": {"x": {"field": "x", "type": "quantitative", "title": null}, "y": {"field": "y0", "type": "quantitative", "title": null}, "y2": {"field": "y1"}}},
   {"data": {"name": "wave"}, "mark": {"type": "line", "color": "#D95319", "strokeWidth": 1.6},
    "encoding": {"x": {"field": "x", "type": "quantitative", "title": null}, "y": {"field": "e", "type": "quantitative", "title": null}}},
   {"data": {"name": "warr"}, "transform": [{"filter": "datum.k=='raw'"}], "mark": {"type": "rule", "color": "#4472C4", "strokeWidth": 1},
    "encoding": {"x": {"field": "x", "type": "quantitative", "title": null}, "y": {"field": "y", "type": "quantitative", "title": null}, "x2": {"field": "x2"}, "y2": {"field": "y2"}}},
   {"data": {"name": "warr"}, "transform": [{"filter": "datum.k=='raw'"}], "mark": {"type": "point", "shape": "triangle", "angle": 243, "size": 22, "filled": true, "color": "#4472C4", "opacity": 1},
    "encoding": {"x": {"field": "x2", "type": "quantitative", "title": null}, "y": {"field": "y2", "type": "quantitative", "title": null}}},
   {"data": {"name": "warr"}, "transform": [{"filter": "datum.k=='env'"}], "mark": {"type": "rule", "color": "#E8312F", "strokeWidth": 1},
    "encoding": {"x": {"field": "x", "type": "quantitative", "title": null}, "y": {"field": "y", "type": "quantitative", "title": null}, "x2": {"field": "x2"}, "y2": {"field": "y2"}}},
   {"data": {"name": "warr"}, "transform": [{"filter": "datum.k=='env'"}], "mark": {"type": "point", "shape": "triangle", "angle": 243, "size": 22, "filled": true, "color": "#B00000", "opacity": 1},
    "encoding": {"x": {"field": "x2", "type": "quantitative", "title": null}, "y": {"field": "y2", "type": "quantitative", "title": null}}},
   {"data": {"name": "wtext"}, "transform": [{"filter": "datum.k=='letter'"}], "mark": {"type": "text", "font": "Liberation Serif", "fontWeight": "bold", "fontSize": 42, "align": "left", "baseline": "alphabetic", "color": "#000"},
    "encoding": {"x": {"field": "x", "type": "quantitative", "title": null}, "y": {"field": "y", "type": "quantitative", "title": null}, "text": {"field": "t"}}},
   {"data": {"name": "wtext"}, "transform": [{"filter": "datum.k=='title'"}], "mark": {"type": "text", "font": "Liberation Serif", "fontWeight": "bold", "fontSize": 28, "align": "left", "baseline": "alphabetic", "color": "#000"},
    "encoding": {"x": {"field": "x", "type": "quantitative", "title": null}, "y": {"field": "y", "type": "quantitative", "title": null}, "text": {"field": "t"}}},
   {"data": {"name": "wtext"}, "transform": [{"filter": "datum.k=='raw'"}], "mark": {"type": "text", "font": "Liberation Serif", "fontWeight": "bold", "fontSize": 17.5, "align": "center", "baseline": "alphabetic", "color": "#4472C4"},
    "encoding": {"x": {"field": "x", "type": "quantitative", "title": null}, "y": {"field": "y", "type": "quantitative", "title": null}, "text": {"field": "t"}}},
   {"data": {"name": "wtext"}, "transform": [{"filter": "datum.k=='env'"}], "mark": {"type": "text", "font": "Liberation Serif", "fontWeight": "bold", "fontSize": 17.5, "align": "center", "baseline": "alphabetic", "color": "#C00000"},
    "encoding": {"x": {"field": "x", "type": "quantitative", "title": null}, "y": {"field": "y", "type": "quantitative", "title": null}, "text": {"field": "t"}}},
   {"data": {"name": "wtext"}, "transform": [{"filter": "datum.k=='exp'"}], "mark": {"type": "text", "font": "Liberation Sans", "fontSize": 8, "align": "center", "baseline": "middle", "color": "#404040"},
    "encoding": {"x": {"field": "x", "type": "quantitative", "title": null}, "y": {"field": "y", "type": "quantitative", "title": null}, "text": {"field": "t"}}}
  ]},
 {"width": 1, "height": 38, "data": {"values": [{}]}, "mark": {"type": "point", "opacity": 0}},
 {"width": 576, "height": 180,
  "encoding": {
   "x": {"field": "x", "type": "quantitative", "scale": {"domain": [-4.661, 39.715], "nice": false, "zero": false}, "axis": null},
   "y": {"field": "y", "type": "quantitative", "scale": {"domain": [-5.05, 3.58], "nice": false, "zero": false, "reverse": true}, "axis": null}
  },
  "layer": [
   {"data": {"name": "cells"}, "transform": [{"filter": "datum.d=='b'"}], "mark": {"type": "rect", "width": 13, "height": 17},
    "encoding": {"x": {"field": "i", "type": "quantitative"}, "y": {"field": "r", "type": "quantitative"},
     "color": {"field": "v", "type": "quantitative", "scale": {"domain": [0, 0.1, 0.2, 0.3, 0.4, 0.5, 0.6, 0.7, 0.8, 0.9, 1], "range": ["#352A87", "#0363E1", "#1485D4", "#06A7C6", "#38B99E", "#73BF72", "#B5BD5A", "#E2B845", "#FDBE3D", "#F3DF25", "#F9FB0E"]}, "legend": null}}},
   {"data": {"name": "segs"}, "transform": [{"filter": "datum.d=='b'"}], "mark": {"type": "rule", "color": "#333", "strokeWidth": 1},
    "encoding": {"x2": {"field": "x2"}, "y2": {"field": "y2"}}},
   {"data": {"name": "arrows"}, "transform": [{"filter": "datum.d=='b'"}], "mark": {"type": "rule", "color": "#7f7f7f", "strokeWidth": 2.5},
    "encoding": {"x2": {"field": "x2"}}},
   {"data": {"name": "arrows"}, "transform": [{"filter": "datum.d=='b'"}], "mark": {"type": "point", "shape": "triangle-right", "size": 45, "filled": true, "color": "#7f7f7f", "opacity": 1},
    "encoding": {"x": {"field": "x2", "type": "quantitative"}}},
   {"data": {"name": "dtext"}, "transform": [{"filter": "datum.d=='b' && datum.k=='letter'"}], "mark": {"type": "text", "font": "Liberation Serif", "fontWeight": "bold", "fontSize": 44, "align": "left", "baseline": "alphabetic", "color": "#000"}, "encoding": {"text": {"field": "t"}}},
   {"data": {"name": "dtext"}, "transform": [{"filter": "datum.d=='b' && datum.k=='title'"}], "mark": {"type": "text", "font": "Liberation Serif", "fontWeight": "bold", "fontSize": 27.5, "align": "left", "baseline": "alphabetic", "color": "#000"}, "encoding": {"text": {"field": "t"}}},
   {"data": {"name": "dtext"}, "transform": [{"filter": "datum.d=='b' && datum.k=='cap'"}], "mark": {"type": "text", "font": "Liberation Serif", "fontSize": 18, "align": "center", "baseline": "middle", "color": "#111"}, "encoding": {"text": {"field": "t"}}},
   {"data": {"name": "dtext"}, "transform": [{"filter": "datum.d=='b' && datum.k=='lab'"}], "mark": {"type": "text", "font": "Liberation Serif, Noto Sans CJK SC", "fontSize": 16, "align": "right", "baseline": "middle", "color": "#111"}, "encoding": {"text": {"field": "t"}}},
   {"data": {"name": "dtext"}, "transform": [{"filter": "datum.d=='b' && datum.k=='dots'"}], "mark": {"type": "text", "font": "Liberation Serif", "fontSize": 16, "align": "center", "baseline": "alphabetic", "color": "#111"}, "encoding": {"text": {"field": "t"}}},
   {"data": {"name": "dtext"}, "transform": [{"filter": "datum.d=='b' && datum.k=='cos'"}], "mark": {"type": "text", "font": "Liberation Serif", "fontSize": 19, "align": "center", "baseline": "middle", "color": "#111"}, "encoding": {"text": {"field": "t"}}},
   {"data": {"name": "dtext"}, "transform": [{"filter": "datum.d=='b' && datum.k=='sc'"}], "mark": {"type": "text", "font": "Liberation Serif", "fontSize": 21, "align": "center", "baseline": "middle", "color": "#111"}, "encoding": {"text": {"field": "t"}}},
   {"data": {"name": "dtext"}, "transform": [{"filter": "datum.d=='b' && datum.k=='coh'"}], "mark": {"type": "text", "font": "Liberation Serif", "fontSize": 16, "align": "left", "baseline": "middle", "color": "#111"}, "encoding": {"text": {"field": "t"}}}
  ]},
 {"width": 1, "height": 15, "data": {"values": [{}]}, "mark": {"type": "point", "opacity": 0}},
 {"width": 576, "height": 240,
  "encoding": {
   "x": {"field": "x", "type": "quantitative", "scale": {"domain": [-4.101, 38.852], "nice": false, "zero": false}, "axis": null},
   "y": {"field": "y", "type": "quantitative", "scale": {"domain": [-2.309, 3.177], "nice": false, "zero": false, "reverse": true}, "axis": null}
  },
  "layer": [
   {"data": {"name": "cells"}, "transform": [{"filter": "datum.d=='c'"}], "mark": {"type": "rect", "width": 13.5, "height": 22.5},
    "encoding": {"x": {"field": "i", "type": "quantitative"}, "y": {"field": "r", "type": "quantitative"},
     "color": {"field": "v", "type": "quantitative", "scale": {"domain": [0, 0.1, 0.2, 0.3, 0.4, 0.5, 0.6, 0.7, 0.8, 0.9, 1], "range": ["#352A87", "#0363E1", "#1485D4", "#06A7C6", "#38B99E", "#73BF72", "#B5BD5A", "#E2B845", "#FDBE3D", "#F3DF25", "#F9FB0E"]}, "legend": null}}},
   {"data": {"name": "segs"}, "transform": [{"filter": "datum.d=='c'"}], "mark": {"type": "rule", "color": "#333", "strokeWidth": 1},
    "encoding": {"x2": {"field": "x2"}, "y2": {"field": "y2"}}},
   {"data": {"name": "arrows"}, "transform": [{"filter": "datum.d=='c'"}], "mark": {"type": "rule", "color": "#7f7f7f", "strokeWidth": 2.5},
    "encoding": {"x2": {"field": "x2"}}},
   {"data": {"name": "arrows"}, "transform": [{"filter": "datum.d=='c'"}], "mark": {"type": "point", "shape": "triangle-right", "size": 45, "filled": true, "color": "#7f7f7f", "opacity": 1},
    "encoding": {"x": {"field": "x2", "type": "quantitative"}}},
   {"data": {"name": "dtext"}, "transform": [{"filter": "datum.d=='c' && datum.k=='letter'"}], "mark": {"type": "text", "font": "Liberation Serif", "fontWeight": "bold", "fontSize": 44, "align": "left", "baseline": "alphabetic", "color": "#000"}, "encoding": {"text": {"field": "t"}}},
   {"data": {"name": "dtext"}, "transform": [{"filter": "datum.d=='c' && datum.k=='title'"}], "mark": {"type": "text", "font": "Liberation Serif", "fontWeight": "bold", "fontSize": 28, "align": "left", "baseline": "alphabetic", "color": "#000"}, "encoding": {"text": {"field": "t"}}},
   {"data": {"name": "dtext"}, "transform": [{"filter": "datum.d=='c' && datum.k=='cap'"}], "mark": {"type": "text", "font": "Liberation Serif", "fontSize": 18, "align": "center", "baseline": "middle", "color": "#111"}, "encoding": {"text": {"field": "t"}}},
   {"data": {"name": "dtext"}, "transform": [{"filter": "datum.d=='c' && datum.k=='labc'"}], "mark": {"type": "text", "font": "Liberation Serif, Noto Sans CJK SC", "fontSize": 14.5, "align": "center", "baseline": "middle", "color": "#111"}, "encoding": {"text": {"field": "t"}}},
   {"data": {"name": "dtext"}, "transform": [{"filter": "datum.d=='c' && datum.k=='cos'"}], "mark": {"type": "text", "font": "Liberation Serif", "fontSize": 19, "align": "center", "baseline": "middle", "color": "#111"}, "encoding": {"text": {"field": "t"}}},
   {"data": {"name": "dtext"}, "transform": [{"filter": "datum.d=='c' && datum.k=='sc'"}], "mark": {"type": "text", "font": "Liberation Serif", "fontSize": 21, "align": "center", "baseline": "middle", "color": "#111"}, "encoding": {"text": {"field": "t"}}},
   {"data": {"name": "dtext"}, "transform": [{"filter": "datum.d=='c' && datum.k=='coh'"}], "mark": {"type": "text", "font": "Liberation Serif", "fontSize": 16, "align": "left", "baseline": "middle", "color": "#111"}, "encoding": {"text": {"field": "t"}}}
  ]}
], "spacing": 0, "bounds": "flush"},
{"vconcat": [
 {"width": 1, "height": 45, "data": {"values": [{}]}, "mark": {"type": "point", "opacity": 0}},
 {"width": 193, "height": 162, "view": {"stroke": "#6b6b6b"},
  "layer": [
   {"data": {"name": "boxes"}, "transform": [{"filter": "datum.p=='a'"}], "mark": {"type": "bar", "width": 42, "stroke": "#ffffff", "strokeOpacity": 0.5, "strokeWidth": 1.5},
    "encoding": {
     "x": {"field": "s", "type": "quantitative", "title": "States", "scale": {"domain": [0.505, 3.39], "nice": false, "zero": false},
      "axis": {"values": [1, 2, 3], "tickCount": 20, "format": "d", "labelOverlap": false, "ticks": false, "labelPadding": 4, "labelFont": "DejaVu Sans", "labelFontSize": 9.5, "labelColor": "#262626", "titleFont": "DejaVu Sans", "titleFontSize": 15, "titleFontWeight": "normal", "titleColor": "#262626", "titlePadding": 3}},
     "y": {"field": "q1", "type": "quantitative", "title": "r value", "scale": {"domain": [-0.3, 0.4], "nice": false, "zero": false},
      "axis": {"values": [-0.3, -0.2, -0.1, 0, 0.1, 0.2, 0.3, 0.4], "tickCount": 20, "format": ".1f", "labelOverlap": false, "ticks": false, "labelPadding": 3, "labelFont": "DejaVu Sans", "labelFontSize": 9.5, "labelColor": "#262626", "titleFont": "DejaVu Sans", "titleFontSize": 15, "titleFontWeight": "normal", "titleColor": "#262626", "titlePadding": 3}},
     "y2": {"field": "q3"},
     "color": {"field": "s", "type": "nominal", "scale": {"domain": [1, 2, 3], "range": ["#279C88", "#E8C064", "#DA7052"]}, "legend": null}}},
   {"data": {"name": "boxes"}, "transform": [{"filter": "datum.p=='a'"}], "mark": {"type": "rule", "color": "#3a3a3a", "strokeWidth": 1.4},
    "encoding": {"x": {"field": "s", "type": "quantitative", "title": "States"}, "y": {"field": "lo", "type": "quantitative", "title": "r value"}, "y2": {"field": "hi"}}},
   {"data": {"name": "boxes"}, "transform": [{"filter": "datum.p=='a'"}, {"fold": ["lo", "hi"]}], "mark": {"type": "tick", "orient": "horizontal", "size": 18, "thickness": 1.4, "color": "#3a3a3a", "opacity": 1},
    "encoding": {"x": {"field": "s", "type": "quantitative", "title": "States"}, "y": {"field": "value", "type": "quantitative", "title": "r value"}}},
   {"data": {"name": "boxes"}, "transform": [{"filter": "datum.p=='a'"}], "mark": {"type": "tick", "orient": "horizontal", "size": 42, "thickness": 1.6, "color": "#F2F20A", "opacity": 1},
    "encoding": {"x": {"field": "s", "type": "quantitative", "title": "States"}, "y": {"field": "med", "type": "quantitative", "title": "r value"}}},
   {"data": {"name": "pts"}, "transform": [{"filter": "datum.p=='a'"}], "mark": {"type": "circle", "size": 17, "color": "#1a1a1a", "opacity": 0.33},
    "encoding": {"x": {"field": "x", "type": "quantitative", "title": "States"}, "y": {"field": "y", "type": "quantitative", "title": "r value"}}},
   {"data": {"name": "stars"}, "transform": [{"filter": "datum.p=='a'"}], "mark": {"type": "text", "font": "DejaVu Sans", "fontSize": 20, "color": "#FF2222", "align": "center", "baseline": "alphabetic"},
    "encoding": {"x": {"field": "s", "type": "quantitative", "title": "States"}, "y": {"field": "y", "type": "quantitative", "title": "r value"}, "text": {"field": "t"}}}
  ]},
 {"width": 1, "height": 86, "data": {"values": [{}]}, "mark": {"type": "point", "opacity": 0}},
 {"width": 193, "height": 163, "view": {"stroke": "#6b6b6b"},
  "layer": [
   {"data": {"name": "boxes"}, "transform": [{"filter": "datum.p=='b'"}], "mark": {"type": "bar", "width": 42, "stroke": "#ffffff", "strokeOpacity": 0.5, "strokeWidth": 1.5},
    "encoding": {
     "x": {"field": "s", "type": "quantitative", "title": "States", "scale": {"domain": [0.505, 3.39], "nice": false, "zero": false},
      "axis": {"values": [1, 2, 3], "tickCount": 20, "format": "d", "labelOverlap": false, "ticks": false, "labelPadding": 4, "labelFont": "DejaVu Sans", "labelFontSize": 9.5, "labelColor": "#262626", "titleFont": "DejaVu Sans", "titleFontSize": 15, "titleFontWeight": "normal", "titleColor": "#262626", "titlePadding": 3}},
     "y": {"field": "q1", "type": "quantitative", "title": "r value", "scale": {"domain": [-0.3, 0.4], "nice": false, "zero": false},
      "axis": {"values": [-0.3, -0.2, -0.1, 0, 0.1, 0.2, 0.3, 0.4], "tickCount": 20, "format": ".1f", "labelOverlap": false, "ticks": false, "labelPadding": 3, "labelFont": "DejaVu Sans", "labelFontSize": 9.5, "labelColor": "#262626", "titleFont": "DejaVu Sans", "titleFontSize": 15, "titleFontWeight": "normal", "titleColor": "#262626", "titlePadding": 3}},
     "y2": {"field": "q3"},
     "color": {"field": "s", "type": "nominal", "scale": {"domain": [1, 2, 3], "range": ["#279C88", "#E8C064", "#DA7052"]}, "legend": null}}},
   {"data": {"name": "boxes"}, "transform": [{"filter": "datum.p=='b'"}], "mark": {"type": "rule", "color": "#3a3a3a", "strokeWidth": 1.4},
    "encoding": {"x": {"field": "s", "type": "quantitative", "title": "States"}, "y": {"field": "lo", "type": "quantitative", "title": "r value"}, "y2": {"field": "hi"}}},
   {"data": {"name": "boxes"}, "transform": [{"filter": "datum.p=='b'"}, {"fold": ["lo", "hi"]}], "mark": {"type": "tick", "orient": "horizontal", "size": 18, "thickness": 1.4, "color": "#3a3a3a", "opacity": 1},
    "encoding": {"x": {"field": "s", "type": "quantitative", "title": "States"}, "y": {"field": "value", "type": "quantitative", "title": "r value"}}},
   {"data": {"name": "boxes"}, "transform": [{"filter": "datum.p=='b'"}], "mark": {"type": "tick", "orient": "horizontal", "size": 42, "thickness": 1.6, "color": "#F2F20A", "opacity": 1},
    "encoding": {"x": {"field": "s", "type": "quantitative", "title": "States"}, "y": {"field": "med", "type": "quantitative", "title": "r value"}}},
   {"data": {"name": "pts"}, "transform": [{"filter": "datum.p=='b'"}], "mark": {"type": "circle", "size": 17, "color": "#1a1a1a", "opacity": 0.33},
    "encoding": {"x": {"field": "x", "type": "quantitative", "title": "States"}, "y": {"field": "y", "type": "quantitative", "title": "r value"}}},
   {"data": {"name": "stars"}, "transform": [{"filter": "datum.p=='b'"}], "mark": {"type": "text", "font": "DejaVu Sans", "fontSize": 20, "color": "#FF2222", "align": "center", "baseline": "alphabetic"},
    "encoding": {"x": {"field": "s", "type": "quantitative", "title": "States"}, "y": {"field": "y", "type": "quantitative", "title": "r value"}, "text": {"field": "t"}}}
  ]},
 {"width": 1, "height": 84, "data": {"values": [{}]}, "mark": {"type": "point", "opacity": 0}},
 {"width": 194, "height": 162, "view": {"stroke": "#6b6b6b"},
  "layer": [
   {"data": {"name": "boxes"}, "transform": [{"filter": "datum.p=='c'"}], "mark": {"type": "bar", "width": 42, "stroke": "#ffffff", "strokeOpacity": 0.5, "strokeWidth": 1.5},
    "encoding": {
     "x": {"field": "s", "type": "quantitative", "title": "States", "scale": {"domain": [0.496, 3.398], "nice": false, "zero": false},
      "axis": {"values": [1, 2, 3], "tickCount": 20, "format": "d", "labelOverlap": false, "ticks": false, "labelPadding": 4, "labelFont": "DejaVu Sans", "labelFontSize": 9.5, "labelColor": "#262626", "titleFont": "DejaVu Sans", "titleFontSize": 15, "titleFontWeight": "normal", "titleColor": "#262626", "titlePadding": 3}},
     "y": {"field": "q1", "type": "quantitative", "title": "r value", "scale": {"domain": [-0.3, 0.4], "nice": false, "zero": false},
      "axis": {"values": [-0.3, -0.2, -0.1, 0, 0.1, 0.2, 0.3, 0.4], "tickCount": 20, "format": ".1f", "labelOverlap": false, "ticks": false, "labelPadding": 3, "labelFont": "DejaVu Sans", "labelFontSize": 9.5, "labelColor": "#262626", "titleFont": "DejaVu Sans", "titleFontSize": 15, "titleFontWeight": "normal", "titleColor": "#262626", "titlePadding": 3}},
     "y2": {"field": "q3"},
     "color": {"field": "s", "type": "nominal", "scale": {"domain": [1, 2, 3], "range": ["#279C88", "#E8C064", "#DA7052"]}, "legend": null}}},
   {"data": {"name": "boxes"}, "transform": [{"filter": "datum.p=='c'"}], "mark": {"type": "rule", "color": "#3a3a3a", "strokeWidth": 1.4},
    "encoding": {"x": {"field": "s", "type": "quantitative", "title": "States"}, "y": {"field": "lo", "type": "quantitative", "title": "r value"}, "y2": {"field": "hi"}}},
   {"data": {"name": "boxes"}, "transform": [{"filter": "datum.p=='c'"}, {"fold": ["lo", "hi"]}], "mark": {"type": "tick", "orient": "horizontal", "size": 18, "thickness": 1.4, "color": "#3a3a3a", "opacity": 1},
    "encoding": {"x": {"field": "s", "type": "quantitative", "title": "States"}, "y": {"field": "value", "type": "quantitative", "title": "r value"}}},
   {"data": {"name": "boxes"}, "transform": [{"filter": "datum.p=='c'"}], "mark": {"type": "tick", "orient": "horizontal", "size": 42, "thickness": 1.6, "color": "#F2F20A", "opacity": 1},
    "encoding": {"x": {"field": "s", "type": "quantitative", "title": "States"}, "y": {"field": "med", "type": "quantitative", "title": "r value"}}},
   {"data": {"name": "pts"}, "transform": [{"filter": "datum.p=='c'"}], "mark": {"type": "circle", "size": 17, "color": "#1a1a1a", "opacity": 0.33},
    "encoding": {"x": {"field": "x", "type": "quantitative", "title": "States"}, "y": {"field": "y", "type": "quantitative", "title": "r value"}}},
   {"data": {"name": "stars"}, "transform": [{"filter": "datum.p=='c'"}], "mark": {"type": "text", "font": "DejaVu Sans", "fontSize": 20, "color": "#FF2222", "align": "center", "baseline": "alphabetic"},
    "encoding": {"x": {"field": "s", "type": "quantitative", "title": "States"}, "y": {"field": "y", "type": "quantitative", "title": "r value"}, "text": {"field": "t"}}}
  ]}
], "spacing": 0, "bounds": "flush"},
{"vconcat": [
 {"width": 1, "height": 54, "data": {"values": [{}]}, "mark": {"type": "point", "opacity": 0}},
 {"width": 176, "height": 139, "view": {"stroke": "#a6a6a6"},
  "layer": [
   {"data": {"name": "hist"}, "transform": [{"filter": "datum.p=='a'"}], "mark": {"type": "rect", "color": "#67B3E4", "stroke": "#2b2b2b", "strokeWidth": 0.5, "clip": true},
    "encoding": {
     "x": {"field": "b0", "type": "quantitative", "title": "permutated mean", "scale": {"domain": [-0.0523, 0.051], "nice": false, "zero": false},
      "axis": {"values": [-0.05, 0, 0.05], "tickCount": 20, "labelExpr": "'' + datum.value", "labelOverlap": false, "tickSize": -3, "tickColor": "#777", "labelPadding": 10, "labelFont": "Liberation Sans", "labelFontSize": 12.5, "labelColor": "#262626", "titleFont": "Liberation Sans", "titleFontSize": 13, "titleFontWeight": "normal", "titleColor": "#262626", "titlePadding": 2}},
     "x2": {"field": "b1"},
     "y": {"field": "n", "type": "quantitative", "title": "frequency", "scale": {"domain": [0, 1000], "nice": false},
      "axis": {"values": [0, 200, 400, 600, 800, 1000], "tickCount": 20, "format": "d", "labelOverlap": false, "tickSize": -3, "tickColor": "#777", "labelPadding": 9, "labelFont": "Liberation Sans", "labelFontSize": 11.5, "labelColor": "#262626", "titleFont": "Liberation Sans", "titleFontSize": 12, "titleFontWeight": "normal", "titleColor": "#262626", "titlePadding": 2}},
     "y2": {"datum": 0}}},
   {"data": {"name": "obs"}, "transform": [{"filter": "datum.p=='a'"}], "mark": {"type": "rule", "color": "#FF0000", "strokeWidth": 2.5},
    "encoding": {"x": {"field": "x", "type": "quantitative", "title": "permutated mean"}, "y": {"field": "y0", "type": "quantitative", "title": "frequency"}, "y2": {"field": "y1"}}},
   {"data": {"name": "htext"}, "transform": [{"filter": "datum.p=='a' && datum.k=='st'"}], "mark": {"type": "text", "font": "Liberation Serif", "fontWeight": "bold", "fontSize": 16, "align": "left", "baseline": "alphabetic", "color": "#000"},
    "encoding": {"x": {"field": "x", "type": "quantitative", "title": "permutated mean"}, "y": {"field": "y", "type": "quantitative", "title": "frequency"}, "text": {"field": "t"}}},
   {"data": {"name": "htext"}, "transform": [{"filter": "datum.p=='a' && datum.k!='st'"}], "mark": {"type": "text", "font": "Liberation Serif", "fontSize": 16, "align": "left", "baseline": "alphabetic", "color": "#000"},
    "encoding": {"x": {"field": "x", "type": "quantitative", "title": "permutated mean"}, "y": {"field": "y", "type": "quantitative", "title": "frequency"}, "text": {"field": "t"}}}
  ]},
 {"width": 1, "height": 106, "data": {"values": [{}]}, "mark": {"type": "point", "opacity": 0}},
 {"width": 183, "height": 142, "view": {"stroke": "#a6a6a6"},
  "layer": [
   {"data": {"name": "hist"}, "transform": [{"filter": "datum.p=='b'"}], "mark": {"type": "rect", "color": "#67B3E4", "stroke": "#2b2b2b", "strokeWidth": 0.5, "clip": true},
    "encoding": {
     "x": {"field": "b0", "type": "quantitative", "title": "permutated mean", "scale": {"domain": [-0.0524, 0.0506], "nice": false, "zero": false},
      "axis": {"values": [-0.05, 0, 0.05], "tickCount": 20, "labelExpr": "'' + datum.value", "labelOverlap": false, "tickSize": -3, "tickColor": "#777", "labelPadding": 10, "labelFont": "Liberation Sans", "labelFontSize": 12.5, "labelColor": "#262626", "titleFont": "Liberation Sans", "titleFontSize": 13, "titleFontWeight": "normal", "titleColor": "#262626", "titlePadding": 2}},
     "x2": {"field": "b1"},
     "y": {"field": "n", "type": "quantitative", "title": "frequency", "scale": {"domain": [0, 1040], "nice": false},
      "axis": {"values": [0, 200, 400, 600, 800, 1000], "tickCount": 20, "format": "d", "labelOverlap": false, "tickSize": -3, "tickColor": "#777", "labelPadding": 9, "labelFont": "Liberation Sans", "labelFontSize": 11.5, "labelColor": "#262626", "titleFont": "Liberation Sans", "titleFontSize": 12, "titleFontWeight": "normal", "titleColor": "#262626", "titlePadding": 2}},
     "y2": {"datum": 0}}},
   {"data": {"name": "obs"}, "transform": [{"filter": "datum.p=='b'"}], "mark": {"type": "rule", "color": "#FF0000", "strokeWidth": 2.5},
    "encoding": {"x": {"field": "x", "type": "quantitative", "title": "permutated mean"}, "y": {"field": "y0", "type": "quantitative", "title": "frequency"}, "y2": {"field": "y1"}}},
   {"data": {"name": "htext"}, "transform": [{"filter": "datum.p=='b' && datum.k=='st'"}], "mark": {"type": "text", "font": "Liberation Serif", "fontWeight": "bold", "fontSize": 16, "align": "left", "baseline": "alphabetic", "color": "#000"},
    "encoding": {"x": {"field": "x", "type": "quantitative", "title": "permutated mean"}, "y": {"field": "y", "type": "quantitative", "title": "frequency"}, "text": {"field": "t"}}},
   {"data": {"name": "htext"}, "transform": [{"filter": "datum.p=='b' && datum.k!='st'"}], "mark": {"type": "text", "font": "Liberation Serif", "fontSize": 16, "align": "left", "baseline": "alphabetic", "color": "#000"},
    "encoding": {"x": {"field": "x", "type": "quantitative", "title": "permutated mean"}, "y": {"field": "y", "type": "quantitative", "title": "frequency"}, "text": {"field": "t"}}}
  ]},
 {"width": 1, "height": 104, "data": {"values": [{}]}, "mark": {"type": "point", "opacity": 0}},
 {"width": 183, "height": 142, "view": {"stroke": "#a6a6a6"},
  "layer": [
   {"data": {"name": "hist"}, "transform": [{"filter": "datum.p=='c'"}], "mark": {"type": "rect", "color": "#67B3E4", "stroke": "#2b2b2b", "strokeWidth": 0.5, "clip": true},
    "encoding": {
     "x": {"field": "b0", "type": "quantitative", "title": "permutated mean", "scale": {"domain": [-0.0522, 0.0504], "nice": false, "zero": false},
      "axis": {"values": [-0.05, 0, 0.05], "tickCount": 20, "labelExpr": "'' + datum.value", "labelOverlap": false, "tickSize": -3, "tickColor": "#777", "labelPadding": 10, "labelFont": "Liberation Sans", "labelFontSize": 12.5, "labelColor": "#262626", "titleFont": "Liberation Sans", "titleFontSize": 13, "titleFontWeight": "normal", "titleColor": "#262626", "titlePadding": 2}},
     "x2": {"field": "b1"},
     "y": {"field": "n", "type": "quantitative", "title": "frequency", "scale": {"domain": [0, 1111], "nice": false},
      "axis": {"values": [0, 200, 400, 600, 800, 1000], "tickCount": 20, "format": "d", "labelOverlap": false, "tickSize": -3, "tickColor": "#777", "labelPadding": 9, "labelFont": "Liberation Sans", "labelFontSize": 11.5, "labelColor": "#262626", "titleFont": "Liberation Sans", "titleFontSize": 12, "titleFontWeight": "normal", "titleColor": "#262626", "titlePadding": 2}},
     "y2": {"datum": 0}}},
   {"data": {"name": "obs"}, "transform": [{"filter": "datum.p=='c'"}], "mark": {"type": "rule", "color": "#FF0000", "strokeWidth": 2.5},
    "encoding": {"x": {"field": "x", "type": "quantitative", "title": "permutated mean"}, "y": {"field": "y0", "type": "quantitative", "title": "frequency"}, "y2": {"field": "y1"}}},
   {"data": {"name": "htext"}, "transform": [{"filter": "datum.p=='c' && datum.k=='st'"}], "mark": {"type": "text", "font": "Liberation Serif", "fontWeight": "bold", "fontSize": 16, "align": "left", "baseline": "alphabetic", "color": "#000"},
    "encoding": {"x": {"field": "x", "type": "quantitative", "title": "permutated mean"}, "y": {"field": "y", "type": "quantitative", "title": "frequency"}, "text": {"field": "t"}}},
   {"data": {"name": "htext"}, "transform": [{"filter": "datum.p=='c' && datum.k!='st'"}], "mark": {"type": "text", "font": "Liberation Serif", "fontSize": 16, "align": "left", "baseline": "alphabetic", "color": "#000"},
    "encoding": {"x": {"field": "x", "type": "quantitative", "title": "permutated mean"}, "y": {"field": "y", "type": "quantitative", "title": "frequency"}, "text": {"field": "t"}}}
  ]}
], "spacing": 0, "bounds": "flush"}
]
}
